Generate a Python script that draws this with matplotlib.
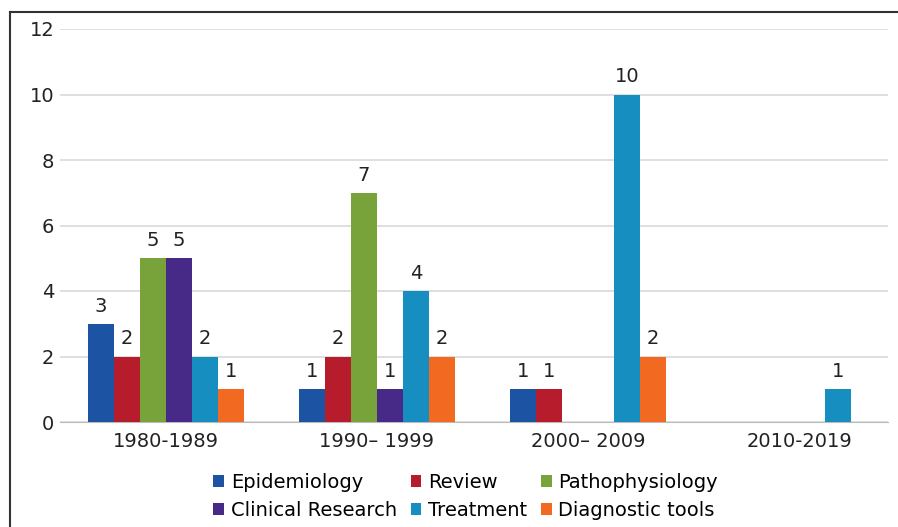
import matplotlib.pyplot as plt
import matplotlib.lines as mlines
import numpy as np

decades = ['1980-1989', '1990\u2013 1999', '2000\u2013 2009', '2010-2019']
series = ['Epidemiology', 'Review', 'Pathophysiology',
          'Clinical Research', 'Treatment', 'Diagnostic tools']
epidemiology = [3, 1, 1, 0]
review = [2, 2, 1, 0]
pathophysiology = [5, 7, 0, 0]
clinical = [5, 1, 0, 0]
treatment = [2, 4, 10, 1]
diagnostic = [1, 2, 2, 0]
values = [epidemiology, review, pathophysiology, clinical, treatment, diagnostic]
colors = ['#1c53a3', '#b71c2c', '#78a33a', '#472a88', '#178ec0', '#f26a21']

fig = plt.figure(figsize=(8.98, 5.27), dpi=100)
ax = fig.add_axes([60 / 898, 1 - 422 / 527, (888 - 60) / 898, (422 - 29) / 527])

x = np.arange(len(decades))
w = 0.123
bars = []
for i, (name, vals, c) in enumerate(zip(series, values, colors)):
    pos = x + (i - 2.5) * w
    b = ax.bar(pos, vals, width=w, color=c, label=name, zorder=3)
    bars.append(b)
    for p, v in zip(pos, vals):
        if v > 0:
            ax.text(p, v + 0.25, str(v), ha='center', va='bottom',
                    fontsize=14, color='#222222')

ax.set_ylim(0, 12)
ax.set_yticks(range(0, 13, 2))
ax.set_xlim(-0.5, 3.42)
ax.set_xticks(x)
ax.set_xticklabels(decades)
ax.tick_params(axis='both', labelsize=14, colors='#222222', length=0)
ax.tick_params(axis='y', pad=4)
ax.tick_params(axis='x', pad=7)
ax.yaxis.grid(True, color='#d9d9d9', linewidth=1.2, zorder=0)
for s in ['top', 'right', 'left']:
    ax.spines[s].set_visible(False)
ax.spines['bottom'].set_color('#bbbbbb')

# legend fills row by row in the reference: reorder for matplotlib's column fill
order = [0, 3, 1, 4, 2, 5]
ax.legend([bars[k] for k in order], [series[k] for k in order],
          loc='upper center', bbox_to_anchor=(0.49, -0.085), ncol=3,
          frameon=False, fontsize=14, handlelength=0.55, handleheight=0.55,
          handletextpad=0.35, columnspacing=0.7, labelspacing=0.45)

# outer frame (top and left edges)
fig.add_artist(mlines.Line2D([10 / 898, 1], [1 - 12 / 527, 1 - 12 / 527],
                             color='#333333', linewidth=1.5, transform=fig.transFigure))
fig.add_artist(mlines.Line2D([10 / 898, 10 / 898], [0, 1 - 12 / 527],
                             color='#333333', linewidth=1.5, transform=fig.transFigure))

fig.savefig('out.png', dpi=100)
